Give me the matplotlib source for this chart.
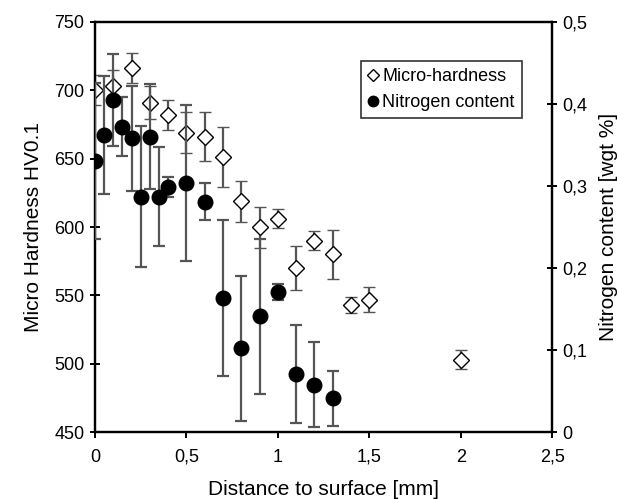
import matplotlib.pyplot as plt
from matplotlib.lines import Line2D
from matplotlib.ticker import FuncFormatter

plt.rcParams['font.family'] = ['Liberation Sans', 'DejaVu Sans']

# Micro-hardness (left axis)
hv_x = [0, 0.1, 0.2, 0.3, 0.4, 0.5, 0.6, 0.7, 0.8, 0.9, 1.0, 1.1, 1.2, 1.3, 1.4, 1.5, 2.0]
hv_y = [700, 703, 716, 691, 682, 669, 666, 651, 619, 600, 606, 570, 590, 580, 543, 547, 503]
hv_err = [11, 12, 11, 12, 11, 15, 18, 22, 15, 15, 7, 16, 7, 18, 6, 9, 7]

# Nitrogen content (right axis)
n_x = [0, 0.05, 0.1, 0.15, 0.2, 0.25, 0.3, 0.35, 0.4, 0.5, 0.6, 0.7, 0.8, 0.9, 1.0, 1.1, 1.2, 1.3]
n_y = [0.330, 0.362, 0.405, 0.372, 0.358, 0.287, 0.360, 0.287, 0.299, 0.304, 0.281,
       0.163, 0.102, 0.141, 0.171, 0.071, 0.058, 0.041]
n_err = [0.095, 0.072, 0.056, 0.036, 0.064, 0.086, 0.064, 0.060, 0.012, 0.095, 0.023,
         0.095, 0.088, 0.095, 0.010, 0.060, 0.052, 0.033]

comma = FuncFormatter(lambda v, p: ('%g' % v).replace('.', ','))

fig = plt.figure(figsize=(6.17, 4.99), dpi=100)
ax = fig.add_axes([0.154, 0.134, 0.741, 0.822])
ax2 = ax.twinx()

ebar_kw = dict(ecolor='#555555', elinewidth=1.6, capsize=4, capthick=1.6, linestyle='none')

ax.errorbar(hv_x, hv_y, yerr=hv_err, marker='D', markersize=8, markerfacecolor='white',
            markeredgecolor='black', markeredgewidth=1.0, zorder=3, **ebar_kw)
ax2.errorbar(n_x, n_y, yerr=n_err, marker='o', markersize=10.5, markerfacecolor='black',
             markeredgecolor='black', zorder=3, **ebar_kw)

ax.set_xlim(0, 2.5)
ax.set_ylim(450, 750)
ax2.set_ylim(0, 0.5)
ax.set_xticks([0, 0.5, 1, 1.5, 2, 2.5])
ax.set_yticks(range(450, 751, 50))
ax2.set_yticks([0, 0.1, 0.2, 0.3, 0.4, 0.5])
ax.xaxis.set_major_formatter(comma)
ax2.yaxis.set_major_formatter(comma)

for a in (ax, ax2):
    for s in a.spines.values():
        s.set_linewidth(1.6)
    a.tick_params(direction='inout', length=7, width=1.4, labelsize=13, pad=4)
ax.tick_params(axis='x', direction='out', length=4, pad=8)

ax.set_xlabel('Distance to surface [mm]', fontsize=15, labelpad=10)
ax.set_ylabel('Micro Hardness HV0.1', fontsize=15, labelpad=8)
ax2.set_ylabel('Nitrogen content [wgt %]', fontsize=15, labelpad=8)

handles = [Line2D([], [], marker='D', markersize=6, markerfacecolor='white',
                  markeredgecolor='black', linestyle='none'),
           Line2D([], [], marker='o', markersize=7.5, markerfacecolor='black',
                  markeredgecolor='black', linestyle='none')]
leg = ax.legend(handles, ['Micro-hardness', 'Nitrogen content'], loc='upper right',
                bbox_to_anchor=(0.934, 0.905), borderaxespad=0, fontsize=13, frameon=True,
                fancybox=False, edgecolor='black', handlelength=0.6, handletextpad=0.2,
                borderpad=0.4, labelspacing=0.5)
leg.get_frame().set_linewidth(1.2)

fig.savefig('out.png', dpi=100)
